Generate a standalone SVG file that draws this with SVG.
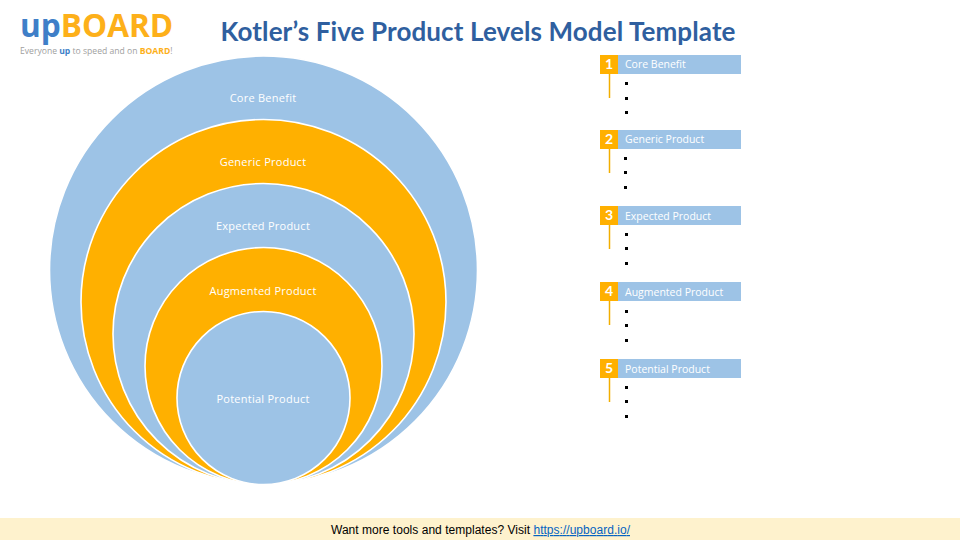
<svg xmlns="http://www.w3.org/2000/svg" width="960" height="540" viewBox="0 0 960 540">
<style>
.c{stroke:#fff;stroke-width:1.600}
.b{fill:#9DC3E6}.o{fill:#FFB000}
.l{font:11px "Open Sans","DejaVu Sans",sans-serif;fill:#fff;text-anchor:middle;letter-spacing:.25px}
.h{font:10.500px "Open Sans","DejaVu Sans",sans-serif;fill:#fff}
.n{font:bold 14px Lato,"Open Sans",sans-serif;fill:#fff;text-anchor:middle}
.s{stroke:#F2AE00;stroke-width:1.500}
.d{fill:#000}
</style>
<rect width="960" height="540" fill="#fff"/>
<g id="logo">
<text x="20" y="37" font-family="'Open Sans',sans-serif" font-size="31.600" font-weight="700" fill="#3F7FC8">up<tspan fill="#FDB01A">BOARD</tspan></text>
<text x="20" y="54" font-family="'Open Sans',sans-serif" font-size="8.600" fill="#a0a0a0">Everyone <tspan font-weight="700" fill="#3F7FC8">up</tspan> to speed and on <tspan font-weight="700" fill="#FDB01A">BOARD</tspan>!</text>
</g>
<text id="title" x="478" y="41" font-family="Lato,'Open Sans',sans-serif" font-size="26" font-weight="700" fill="#2F5F9F" text-anchor="middle" textLength="515" lengthAdjust="spacing">Kotler’s Five Product Levels Model Template</text>
<g id="level-1-circle"><circle class="c b" cx="263.500" cy="270" r="214"/><text class="l" x="263" y="102">Core Benefit</text></g>
<g id="level-2-circle"><circle class="c o" cx="263.500" cy="302" r="182.500"/><text class="l" x="263" y="166">Generic Product</text></g>
<g id="level-3-circle"><circle class="c b" cx="263.500" cy="334" r="150.500"/><text class="l" x="263" y="230">Expected Product</text></g>
<g id="level-4-circle"><circle class="c o" cx="263.500" cy="366" r="118.500"/><text class="l" x="263" y="295">Augmented Product</text></g>
<g id="level-5-circle"><circle class="c b" cx="263.500" cy="398" r="86.500"/><text class="l" x="263" y="403">Potential Product</text></g>
<g id="connectors">
<line class="s" x1="609.500" y1="74" x2="609.500" y2="98"/>
<line class="s" x1="609.500" y1="149" x2="609.500" y2="173"/>
<line class="s" x1="609.500" y1="225" x2="609.500" y2="249"/>
<line class="s" x1="609.500" y1="301" x2="609.500" y2="325"/>
<line class="s" x1="609.500" y1="378" x2="609.500" y2="402"/>
</g>
<g id="item-1"><rect class="b" x="618" y="55" width="123" height="19"/><rect class="o" x="600" y="55" width="18" height="19"/><text class="n" x="609" y="69">1</text><text class="h" x="625" y="68">Core Benefit</text><rect class="d" x="625" y="82" width="3" height="3"/><rect class="d" x="625" y="97" width="3" height="3"/><rect class="d" x="625" y="111" width="3" height="3"/></g>
<g id="item-2"><rect class="b" x="618" y="130" width="123" height="19"/><rect class="o" x="600" y="130" width="18" height="19"/><text class="n" x="609" y="144">2</text><text class="h" x="625" y="143">Generic Product</text><rect class="d" x="624" y="157" width="3" height="3"/><rect class="d" x="624" y="171" width="3" height="3"/><rect class="d" x="624" y="186" width="3" height="3"/></g>
<g id="item-3"><rect class="b" x="618" y="206" width="123" height="19"/><rect class="o" x="600" y="206" width="18" height="19"/><text class="n" x="609" y="220">3</text><text class="h" x="625" y="220">Expected Product</text><rect class="d" x="625" y="233" width="3" height="3"/><rect class="d" x="625" y="247" width="3" height="3"/><rect class="d" x="625" y="262" width="3" height="3"/></g>
<g id="item-4"><rect class="b" x="618" y="282" width="123" height="19"/><rect class="o" x="600" y="282" width="18" height="19"/><text class="n" x="609" y="296">4</text><text class="h" x="625" y="296">Augmented Product</text><rect class="d" x="625" y="310" width="3" height="3"/><rect class="d" x="625" y="324" width="3" height="3"/><rect class="d" x="625" y="339" width="3" height="3"/></g>
<g id="item-5"><rect class="b" x="618" y="359" width="123" height="19"/><rect class="o" x="600" y="359" width="18" height="19"/><text class="n" x="609" y="373">5</text><text class="h" x="625" y="373">Potential Product</text><rect class="d" x="625" y="386" width="3" height="3"/><rect class="d" x="625" y="400" width="3" height="3"/><rect class="d" x="625" y="415" width="3" height="3"/></g>
<g id="footer"><rect x="0" y="518" width="960" height="22" fill="#FEF2CD"/>
<text x="331" y="534" font-family="'Liberation Sans',Arial,sans-serif" font-size="12" fill="#000" textLength="299">Want more tools and templates? Visit <tspan fill="#0563C1" text-decoration="underline">https://upboard.io/</tspan></text></g>
</svg>
